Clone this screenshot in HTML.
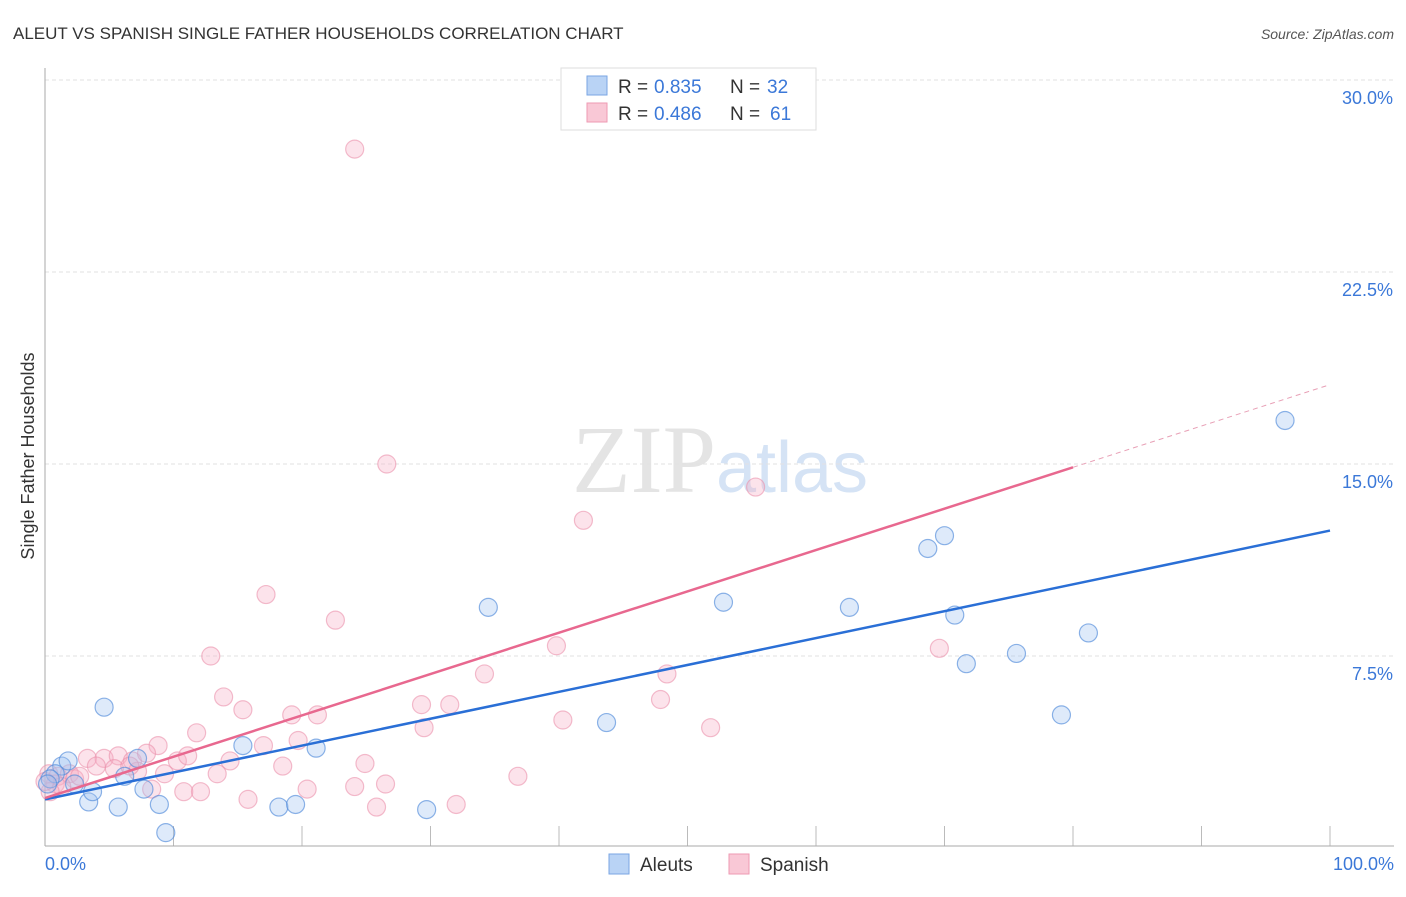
<!DOCTYPE html>
<html><head><meta charset="utf-8"><style>
body{margin:0;background:#fff;font-family:"Liberation Sans",sans-serif;}
</style></head><body>
<svg width="1406" height="892" xmlns="http://www.w3.org/2000/svg" font-family="Liberation Sans, sans-serif">
<text x="13" y="39" font-size="17" fill="#333">ALEUT VS SPANISH SINGLE FATHER HOUSEHOLDS CORRELATION CHART</text>
<text x="1394" y="39" font-size="14" fill="#555" text-anchor="end" font-style="italic">Source: ZipAtlas.com</text>
<text x="720" y="492" font-size="96" fill="#e4e4e4" text-anchor="middle" font-family="Liberation Serif, serif">ZIP<tspan fill="#d5e3f5" font-family="Liberation Sans, sans-serif" font-size="72">atlas</tspan></text>
<g id="grid"></g><g id="ticks"></g>
<line x1="45" y1="68" x2="45" y2="846" stroke="#aaa"/>
<line x1="45" y1="846" x2="1394" y2="846" stroke="#aaa"/>
<text transform="translate(34,456) rotate(-90)" font-size="18" fill="#333" text-anchor="middle">Single Father Households</text>
<text x="45" y="870" font-size="18" fill="#3b78d8">0.0%</text>
<text x="1394" y="870" font-size="18" fill="#3b78d8" text-anchor="end">100.0%</text>
<g id="pts"></g><g id="lines"></g>
<g>
<rect x="561" y="68" width="255" height="62" fill="#fff" stroke="#ddd"/>
<rect x="587" y="76" width="20" height="19" fill="#b9d3f5" stroke="#7aa6e3"/>
<rect x="587" y="103" width="20" height="19" fill="#f9c8d6" stroke="#ee9ab3"/>
<text x="618" y="93" font-size="19" fill="#333">R =</text>
<text x="654" y="93" font-size="19" fill="#3b78d8">0.835</text>
<text x="730" y="93" font-size="19" fill="#333">N =</text>
<text x="767" y="93" font-size="19" fill="#3b78d8">32</text>
<text x="618" y="120" font-size="19" fill="#333">R =</text>
<text x="654" y="120" font-size="19" fill="#3b78d8">0.486</text>
<text x="730" y="120" font-size="19" fill="#333">N =</text>
<text x="770" y="120" font-size="19" fill="#3b78d8">61</text>
</g>
<g>
<rect x="609" y="854" width="20" height="20" fill="#b9d3f5" stroke="#7aa6e3"/>
<text x="640" y="871" font-size="19" fill="#333">Aleuts</text>
<rect x="729" y="854" width="20" height="20" fill="#f9c8d6" stroke="#ee9ab3"/>
<text x="760" y="871" font-size="19" fill="#333">Spanish</text>
</g>
</svg>
<script>
const yTicks=[7.5,15,22.5,30];
const yTickLabels=["7.5%","15.0%","22.5%","30.0%"];
const xTicks=[10,20,30,40,50,60,70,80,90,100];
const aleutX=[4.6,1.3,1.8,0.8,2.3,3.4,3.7,5.7,6.2,7.2,7.7,8.9,9.4,15.4,18.2,19.5,21.1,29.7,34.5,43.7,52.8,62.6,68.7,70.0,70.8,71.7,75.6,79.1,81.2,96.5,0.4,0.2];
const aleutY=[5.5,3.2,3.4,2.9,2.5,1.8,2.2,1.6,2.8,3.5,2.3,1.7,0.6,4.0,1.6,1.7,3.9,1.5,9.4,4.9,9.6,9.4,11.7,12.2,9.1,7.2,7.6,5.2,8.4,16.7,2.7,2.5];
const spanishX=[24.1,26.6,55.3,41.9,17.2,22.6,12.9,39.8,69.6,48.4,34.2,13.9,29.3,31.5,47.9,15.4,19.2,21.2,29.5,40.3,51.8,11.8,8.8,17.0,3.3,4.6,5.7,6.8,7.9,10.3,11.1,14.4,24.9,4.0,5.4,7.2,9.3,13.4,18.5,19.7,0.3,1.0,1.9,2.3,0.8,1.3,0.4,8.3,10.8,12.1,15.8,20.4,24.1,26.5,36.8,25.8,32.0,0.0,56.2,2.7,6.6];
const spanishY=[27.3,15.0,14.1,12.8,9.9,8.9,7.5,7.9,7.8,6.8,6.8,5.9,5.6,5.6,5.8,5.4,5.2,5.2,4.7,5.0,4.7,4.5,4.0,4.0,3.5,3.5,3.6,3.4,3.7,3.4,3.6,3.4,3.3,3.2,3.1,3.0,2.9,2.9,3.2,4.2,2.9,2.8,2.9,2.7,2.5,2.4,2.2,2.3,2.2,2.2,1.9,2.3,2.4,2.5,2.8,1.6,1.7,2.6,29.9,2.8,3.2];
const aleutFit=[1.9,12.4];
const spanishFit=[1.95,18.1];
const spanishSolidEnd=80;
const NS="http://www.w3.org/2000/svg";
const X=v=>45+v*12.85, Y=v=>848-v*25.6;
function mk(t,a,p){const e=document.createElementNS(NS,t);for(const k in a)e.setAttribute(k,a[k]);document.getElementById(p).appendChild(e);return e;}
yTicks.forEach((t,i)=>{
 const l=mk('line',{x1:45,x2:1394,y1:Y(t),y2:Y(t),stroke:'#e2e2e2','stroke-dasharray':'4,3'},'grid');
 
 
 const tx=mk('text',{x:1393,y:Y(t)+24,'font-size':18,fill:'#3b78d8','text-anchor':'end'},'grid');
 tx.textContent=yTickLabels[i];
 
 
});
xTicks.forEach(t=>{
 const l=mk('line',{x1:X(t),x2:X(t),y1:826,y2:846,stroke:'#bbb'},'ticks');
 
 
});
spanishX.forEach((v,i)=>{
 const c=mk('circle',{cx:X(v),cy:Y(spanishY[i]),r:9,fill:'rgba(246,176,198,0.35)',stroke:'rgba(235,145,172,0.6)','stroke-width':1.2},'pts');
 
 
});
aleutX.forEach((v,i)=>{
 const c=mk('circle',{cx:X(v),cy:Y(aleutY[i]),r:9,fill:'rgba(160,196,240,0.35)',stroke:'rgba(80,138,218,0.65)','stroke-width':1.2},'pts');
 
 
});
const sAt=x=>spanishFit[0]+(spanishFit[1]-spanishFit[0])*x/100;
let l=mk('line',{x1:X(0),y1:Y(aleutFit[0]),x2:X(100),y2:Y(aleutFit[1]),stroke:'#2a6fd6','stroke-width':2.5},'lines');


l=mk('line',{x1:X(0),y1:Y(sAt(0)),x2:X(spanishSolidEnd),y2:Y(sAt(spanishSolidEnd)),stroke:'#e8688f','stroke-width':2.5},'lines');


l=mk('line',{x1:X(spanishSolidEnd),y1:Y(sAt(spanishSolidEnd)),x2:X(100),y2:Y(sAt(100)),stroke:'#e8a0b6','stroke-width':1,'stroke-dasharray':'5,4'},'lines');


</script>
</body></html>
